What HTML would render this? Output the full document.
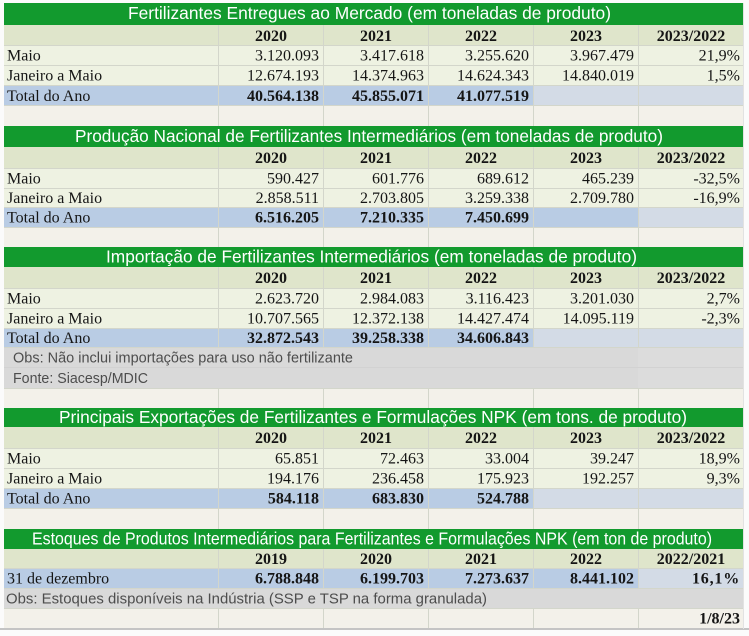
<!DOCTYPE html>
<html>
<head>
<meta charset="utf-8">
<style>
html,body{margin:0;padding:0;background:#fbfbfb;}
svg{display:block;}
.t{font-family:"Liberation Sans",Arial,sans-serif;font-size:17.5px;fill:#ffffff;}
.d{font-family:"Liberation Serif","Times New Roman",serif;font-size:16px;fill:#151515;}
.b{font-family:"Liberation Serif","Times New Roman",serif;font-size:16px;font-weight:bold;fill:#151515;}
.o{font-family:"Liberation Sans",Arial,sans-serif;font-size:15px;fill:#4d4d4d;}
.r{text-anchor:end;}
.c{text-anchor:middle;}
</style>
</head>
<body>
<svg width="749" height="636" viewBox="0 0 749 636" xmlns="http://www.w3.org/2000/svg">
<rect x="0" y="0" width="749" height="636" fill="#fbfbfb"/>
<!-- bottom shadow / right edge -->
<rect x="0" y="628" width="749" height="2" fill="#c4c4c4"/>
<rect x="743" y="3" width="1" height="626" fill="#e2e2e2"/>

<!-- ================= Section 1 ================= -->
<rect x="4" y="3" width="739" height="22" fill="#129a2e"/>
<rect x="4" y="25" width="739" height="20" fill="#dfe5cb"/>
<rect x="4" y="45" width="739" height="41" fill="#eef2e2"/>
<rect x="4" y="86" width="529" height="20" fill="#b9cce4"/>
<rect x="533" y="86" width="210" height="20" fill="#d3dbe6"/>
<rect x="4" y="106" width="739" height="20" fill="#f3f1ea"/>
<path d="M4 45.5H743M4 65.5H743M4 85.5H743M4 105.5H743M218.5 25V126M323.5 25V126M428.5 25V126M533.5 25V126M638.5 25V126" stroke="#d3d6cb" stroke-width="1" fill="none"/>
<text class="t" x="128" y="19" textLength="483" lengthAdjust="spacingAndGlyphs">Fertilizantes Entregues ao Mercado (em toneladas de produto)</text>
<text class="b c" x="271" y="41">2020</text>
<text class="b c" x="376" y="41">2021</text>
<text class="b c" x="481" y="41">2022</text>
<text class="b c" x="586" y="41">2023</text>
<text class="b c" x="691" y="41">2023/2022</text>
<text class="d" x="7" y="60.5">Maio</text>
<text class="d r" x="319" y="60.5">3.120.093</text>
<text class="d r" x="424" y="60.5">3.417.618</text>
<text class="d r" x="529" y="60.5">3.255.620</text>
<text class="d r" x="634" y="60.5">3.967.479</text>
<text class="d r" x="740" y="60.5">21,9%</text>
<text class="d" x="7" y="80.5">Janeiro a Maio</text>
<text class="d r" x="319" y="80.5">12.674.193</text>
<text class="d r" x="424" y="80.5">14.374.963</text>
<text class="d r" x="529" y="80.5">14.624.343</text>
<text class="d r" x="634" y="80.5">14.840.019</text>
<text class="d r" x="740" y="80.5">1,5%</text>
<text class="d" x="7" y="101">Total do Ano</text>
<text class="b r" x="319" y="101">40.564.138</text>
<text class="b r" x="424" y="101">45.855.071</text>
<text class="b r" x="529" y="101">41.077.519</text>

<!-- ================= Section 2 ================= -->
<rect x="4" y="126" width="739" height="21" fill="#129a2e"/>
<rect x="4" y="147" width="739" height="21" fill="#dfe5cb"/>
<rect x="4" y="168" width="739" height="39" fill="#eef2e2"/>
<rect x="4" y="207" width="634" height="20" fill="#b9cce4"/>
<rect x="638" y="207" width="105" height="20" fill="#d3dbe6"/>
<rect x="4" y="227" width="739" height="20" fill="#f3f1ea"/>
<path d="M4 168.5H743M4 188.5H743M4 207.5H743M4 227.5H743M218.5 147V247M323.5 147V247M428.5 147V247M533.5 147V247M638.5 147V247" stroke="#d3d6cb" stroke-width="1" fill="none"/>
<text class="t" x="75" y="142" textLength="588" lengthAdjust="spacingAndGlyphs">Produção Nacional de Fertilizantes Intermediários (em toneladas de produto)</text>
<text class="b c" x="271" y="163">2020</text>
<text class="b c" x="376" y="163">2021</text>
<text class="b c" x="481" y="163">2022</text>
<text class="b c" x="586" y="163">2023</text>
<text class="b c" x="691" y="163">2023/2022</text>
<text class="d" x="7" y="183.5">Maio</text>
<text class="d r" x="319" y="183.5">590.427</text>
<text class="d r" x="424" y="183.5">601.776</text>
<text class="d r" x="529" y="183.5">689.612</text>
<text class="d r" x="634" y="183.5">465.239</text>
<text class="d r" x="740" y="183.5">-32,5%</text>
<text class="d" x="7" y="203">Janeiro a Maio</text>
<text class="d r" x="319" y="203">2.858.511</text>
<text class="d r" x="424" y="203">2.703.805</text>
<text class="d r" x="529" y="203">3.259.338</text>
<text class="d r" x="634" y="203">2.709.780</text>
<text class="d r" x="740" y="203">-16,9%</text>
<text class="d" x="7" y="222.5">Total do Ano</text>
<text class="b r" x="319" y="222.5">6.516.205</text>
<text class="b r" x="424" y="222.5">7.210.335</text>
<text class="b r" x="529" y="222.5">7.450.699</text>

<!-- ================= Section 3 ================= -->
<rect x="4" y="247" width="739" height="20" fill="#129a2e"/>
<rect x="4" y="267" width="739" height="21" fill="#dfe5cb"/>
<rect x="4" y="288" width="739" height="40" fill="#eef2e2"/>
<rect x="4" y="328" width="529" height="19" fill="#b9cce4"/>
<rect x="533" y="328" width="210" height="19" fill="#d3dbe6"/>
<rect x="4" y="347" width="739" height="41" fill="#d9d9d9"/>
<rect x="638" y="347" width="105" height="41" fill="#dcdcdc"/>
<rect x="4" y="388" width="739" height="20" fill="#f3f1ea"/>
<path d="M4 288.5H743M4 308.5H743M4 328.5H743M4 347.5H743M4 388.5H743M218.5 267V347M323.5 267V347M428.5 267V347M533.5 267V347M638.5 267V347M218.5 388V408M323.5 388V408M428.5 388V408M533.5 388V408M638.5 388V408" stroke="#d3d6cb" stroke-width="1" fill="none"/>
<path d="M4 367.5H743" stroke="#d2d2d2" stroke-width="1" fill="none"/>
<text class="t" x="106" y="262.5" textLength="531" lengthAdjust="spacingAndGlyphs">Importação de Fertilizantes Intermediários (em toneladas de produto)</text>
<text class="b c" x="271" y="283">2020</text>
<text class="b c" x="376" y="283">2021</text>
<text class="b c" x="481" y="283">2022</text>
<text class="b c" x="586" y="283">2023</text>
<text class="b c" x="691" y="283">2023/2022</text>
<text class="d" x="7" y="303.5">Maio</text>
<text class="d r" x="319" y="303.5">2.623.720</text>
<text class="d r" x="424" y="303.5">2.984.083</text>
<text class="d r" x="529" y="303.5">3.116.423</text>
<text class="d r" x="634" y="303.5">3.201.030</text>
<text class="d r" x="740" y="303.5">2,7%</text>
<text class="d" x="7" y="323.5">Janeiro a Maio</text>
<text class="d r" x="319" y="323.5">10.707.565</text>
<text class="d r" x="424" y="323.5">12.372.138</text>
<text class="d r" x="529" y="323.5">14.427.474</text>
<text class="d r" x="634" y="323.5">14.095.119</text>
<text class="d r" x="740" y="323.5">-2,3%</text>
<text class="d" x="7" y="343">Total do Ano</text>
<text class="b r" x="319" y="343">32.872.543</text>
<text class="b r" x="424" y="343">39.258.338</text>
<text class="b r" x="529" y="343">34.606.843</text>
<text class="o" x="13" y="362.5" textLength="340" lengthAdjust="spacingAndGlyphs">Obs: Não inclui importações para uso não fertilizante</text>
<text class="o" x="13" y="383" textLength="135" lengthAdjust="spacingAndGlyphs">Fonte: Siacesp/MDIC</text>

<!-- ================= Section 4 ================= -->
<rect x="4" y="408" width="739" height="19" fill="#129a2e"/>
<rect x="4" y="427" width="739" height="21" fill="#dfe5cb"/>
<rect x="4" y="448" width="739" height="40" fill="#eef2e2"/>
<rect x="4" y="488" width="529" height="20" fill="#b9cce4"/>
<rect x="533" y="488" width="210" height="20" fill="#d3dbe6"/>
<rect x="4" y="508" width="739" height="21" fill="#f3f1ea"/>
<path d="M4 448.5H743M4 468.5H743M4 488.5H743M4 508.5H743M218.5 427V529M323.5 427V529M428.5 427V529M533.5 427V529M638.5 427V529" stroke="#d3d6cb" stroke-width="1" fill="none"/>
<text class="t" x="59" y="423" textLength="628" lengthAdjust="spacingAndGlyphs">Principais Exportações de Fertilizantes e Formulações NPK (em tons. de produto)</text>
<text class="b c" x="271" y="443">2020</text>
<text class="b c" x="376" y="443">2021</text>
<text class="b c" x="481" y="443">2022</text>
<text class="b c" x="586" y="443">2023</text>
<text class="b c" x="691" y="443">2023/2022</text>
<text class="d" x="7" y="463.5">Maio</text>
<text class="d r" x="319" y="463.5">65.851</text>
<text class="d r" x="424" y="463.5">72.463</text>
<text class="d r" x="529" y="463.5">33.004</text>
<text class="d r" x="634" y="463.5">39.247</text>
<text class="d r" x="740" y="463.5">18,9%</text>
<text class="d" x="7" y="483.5">Janeiro a Maio</text>
<text class="d r" x="319" y="483.5">194.176</text>
<text class="d r" x="424" y="483.5">236.458</text>
<text class="d r" x="529" y="483.5">175.923</text>
<text class="d r" x="634" y="483.5">192.257</text>
<text class="d r" x="740" y="483.5">9,3%</text>
<text class="d" x="7" y="503.5">Total do Ano</text>
<text class="b r" x="319" y="503.5">584.118</text>
<text class="b r" x="424" y="503.5">683.830</text>
<text class="b r" x="529" y="503.5">524.788</text>

<!-- ================= Section 5 ================= -->
<rect x="4" y="529" width="739" height="20" fill="#129a2e"/>
<rect x="4" y="549" width="739" height="19" fill="#dfe5cb"/>
<rect x="4" y="568" width="634" height="20" fill="#b9cce4"/>
<rect x="638" y="568" width="105" height="20" fill="#d3dbe6"/>
<rect x="4" y="588" width="739" height="20" fill="#d9d9d9"/>
<rect x="4" y="608" width="739" height="20" fill="#f3f1ea"/>
<path d="M4 568.5H743M4 588.5H743M4 608.5H743M218.5 549V588M323.5 549V588M428.5 549V588M533.5 549V588M638.5 549V588M218.5 608V628M323.5 608V628M428.5 608V628M533.5 608V628M638.5 608V628" stroke="#d3d6cb" stroke-width="1" fill="none"/>
<text class="t" x="32" y="544.5" textLength="680" lengthAdjust="spacingAndGlyphs">Estoques de Produtos Intermediários para Fertilizantes e Formulações NPK (em ton de produto)</text>
<text class="b c" x="271" y="564">2019</text>
<text class="b c" x="376" y="564">2020</text>
<text class="b c" x="481" y="564">2021</text>
<text class="b c" x="586" y="564">2022</text>
<text class="b c" x="691" y="564">2022/2021</text>
<text class="d" x="7" y="583.5">31 de dezembro</text>
<text class="b r" x="319" y="583.5">6.788.848</text>
<text class="b r" x="424" y="583.5">6.199.703</text>
<text class="b r" x="529" y="583.5">7.273.637</text>
<text class="b r" x="634" y="583.5">8.441.102</text>
<text class="b r" x="740" y="583.5" letter-spacing="0.8">16,1%</text>
<text class="o" x="6" y="603.5" textLength="481" lengthAdjust="spacingAndGlyphs">Obs: Estoques disponíveis na Indústria (SSP e TSP na forma granulada)</text>
<text class="b r" x="740" y="623.5">1/8/23</text>
</svg>
</body>
</html>
